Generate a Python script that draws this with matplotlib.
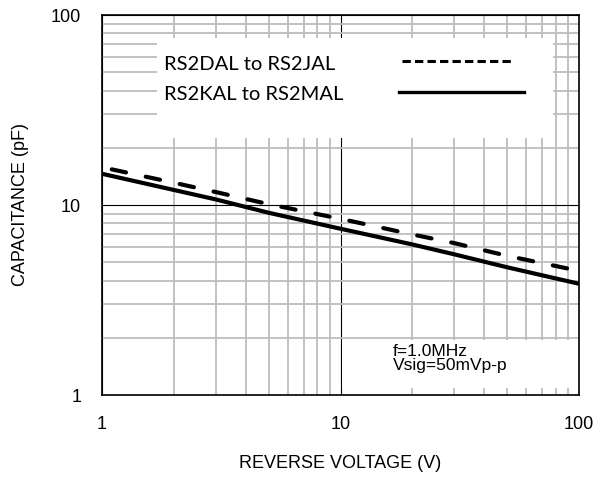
import matplotlib
matplotlib.use("Agg")
import matplotlib.pyplot as plt
from matplotlib.patches import Rectangle
from matplotlib.lines import Line2D
from matplotlib.ticker import LogLocator, FixedLocator, NullFormatter

# Data
voltage = [1, 2, 3, 5, 10, 20, 30, 50, 100]
cap_dal_jal = [15.8, 13.1, 11.7, 10.1, 8.46, 7.0, 6.3, 5.4, 4.5]
cap_kal_mal = [14.6, 12.0, 10.7, 9.1, 7.5, 6.2, 5.5, 4.7, 3.85]
series_names = ["RS2DAL to RS2JAL", "RS2KAL to RS2MAL"]
x_ticks = [1, 10, 100]
y_ticks = [1, 10, 100]
x_label = "REVERSE VOLTAGE (V)"
y_label = "CAPACITANCE (pF)"
note = "f=1.0MHz\nVsig=50mVp-p"

plt.rcParams['lines.scale_dashes'] = False
fig = plt.figure(figsize=(5.98, 4.79), dpi=100)
ax = fig.add_axes([102/598, 1 - 395/479, 477/598, 380/479])
ax.set_xscale('log')
ax.set_yscale('log')
ax.set_xlim(1, 100)
ax.set_ylim(1, 100)

# grids
ax.xaxis.set_major_locator(FixedLocator(x_ticks))
ax.yaxis.set_major_locator(FixedLocator(y_ticks))
ax.xaxis.set_minor_locator(LogLocator(base=10, subs=range(2, 10)))
ax.yaxis.set_minor_locator(LogLocator(base=10, subs=range(2, 10)))
ax.xaxis.set_minor_formatter(NullFormatter())
ax.yaxis.set_minor_formatter(NullFormatter())
ax.grid(which='minor', color='#bdbdbd', lw=1.3, zorder=0)
ax.grid(which='major', color='black', lw=0.8, zorder=0.5)
ax.set_axisbelow(True)
ax.set_xticks(x_ticks)
ax.set_xticklabels([str(v) for v in x_ticks])
ax.set_yticks(y_ticks)
ax.set_yticklabels([str(v) for v in y_ticks])
ax.tick_params(which='both', length=0)
ax.tick_params(axis='x', pad=15, labelsize=13)
ax.tick_params(axis='y', pad=15, labelsize=13)
for lab in ax.get_xticklabels() + ax.get_yticklabels():
    lab.set_fontfamily('Liberation Sans')
for s in ax.spines.values():
    s.set_linewidth(1.2)
    s.set_zorder(5)

ax.set_xlabel(x_label, fontsize=13, family='Liberation Sans', labelpad=16)
ax.set_ylabel(y_label, fontsize=13, family='Liberation Sans', labelpad=16)

# curves
ax.plot(voltage, cap_dal_jal, color='black', lw=3.0,
        linestyle=(17.8, (10.5, 14.5)), dash_capstyle='round', zorder=3)
ax.plot(voltage, cap_kal_mal, color='black', lw=3.0, solid_capstyle='butt', zorder=3)

# legend box (manual)
lx0, lx1 = (157-102)/477, (553-102)/477
ly0, ly1 = (395-138)/380, (395-38)/380
ax.add_patch(Rectangle((lx0, ly0), lx1-lx0, ly1-ly0, transform=ax.transAxes,
                       facecolor='white', edgecolor='none', zorder=2))
ty1 = (395-64)/380
ty2 = (395-95)/380
ax.text((164-102)/477, ty1, series_names[0], transform=ax.transAxes,
        family='Lato', fontsize=14.5, va='center', ha='left', zorder=4)
ax.text((164-102)/477, ty2, series_names[1], transform=ax.transAxes,
        family='Lato', fontsize=14.5, va='center', ha='left', zorder=4)
ax.add_line(Line2D([(402-102)/477, (512-102)/477], [(395-61)/380]*2,
                   transform=ax.transAxes, color='black', lw=2.2,
                   dashes=(6, 3), zorder=4))
ax.add_line(Line2D([(399-102)/477, (524-102)/477], [(395-92)/380]*2,
                   transform=ax.transAxes, color='black', lw=2.4, zorder=4))

# note box
nx0, nx1 = (342-102)/477, (578-102)/477
ny0, ny1 = (395-388)/380, (395-340)/380
ax.add_patch(Rectangle((nx0, ny0), nx1-nx0, ny1-ny0, transform=ax.transAxes,
                       facecolor='white', edgecolor='none', zorder=2))
ax.text((393-102)/477, (395-344)/380, note, transform=ax.transAxes,
        family='Liberation Sans', fontsize=12.5, va='top', ha='left',
        linespacing=0.95, zorder=4)

fig.savefig('out.png', dpi=100)
